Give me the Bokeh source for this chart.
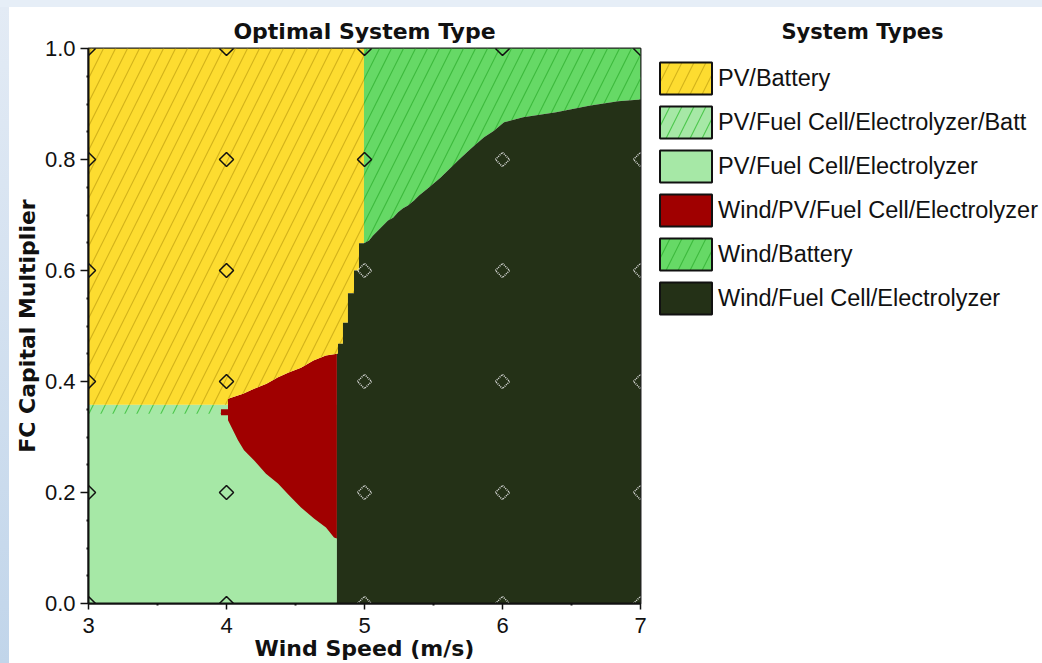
import numpy as np
from bokeh.plotting import figure
from bokeh.models import (Range1d, FixedTicker, Legend, LegendItem, Div, Title,
                          NumeralTickFormatter, ColumnDataSource)
from bokeh.layouts import column, row
from bokeh.embed import file_html
from bokeh.resources import INLINE

# ---------------- data ----------------
x_ticks = [3, 4, 5, 6, 7]
x_minor = [3.5, 4.5, 5.5, 6.5]
y_ticks = [0.0, 0.2, 0.4, 0.6, 0.8, 1.0]
y_minor = [0.05, 0.1, 0.15, 0.25, 0.3, 0.35, 0.45, 0.5, 0.55, 0.65, 0.7, 0.75, 0.85, 0.9, 0.95]

system_types = ["PV/Battery",
                "PV/Fuel Cell/Electrolyzer/Batt",
                "PV/Fuel Cell/Electrolyzer",
                "Wind/PV/Fuel Cell/Electrolyzer",
                "Wind/Battery",
                "Wind/Fuel Cell/Electrolyzer"]
fill_colors = ["#FDDC30", "#A6E8A6", "#A6E8A6", "#A00000", "#66D966", "#243117"]
hatch_colors = ["#D5B41A", "#4FC84F", None, None, "#3EBB3E", None]

# boundary between PV/Battery (left) and Wind/FC/Electrolyzer (right), top to bottom
sep_x = [4.996, 4.996, 4.96, 4.96, 4.924, 4.924, 4.88, 4.88, 4.844, 4.844, 4.808, 4.808, 4.80]
sep_y = [1.0, 0.649, 0.649, 0.60, 0.60, 0.559, 0.559, 0.506, 0.506, 0.468, 0.468, 0.45, 0.45]

# top edge of Wind/PV/FC/Electrolyzer region, right to left
red_top_x = [4.80, 4.72, 4.63, 4.54, 4.45, 4.37, 4.29, 4.20, 4.12, 4.011]
red_top_y = [0.450, 0.447, 0.438, 0.425, 0.416, 0.407, 0.396, 0.387, 0.378, 0.369]
# lower-left edge of Wind/PV/FC/Electrolyzer region, left to right
red_bot_x = [4.011, 4.011, 4.047, 4.083, 4.127, 4.199, 4.286, 4.373, 4.453, 4.540, 4.634, 4.721, 4.779, 4.80]
red_bot_y = [0.369, 0.330, 0.312, 0.294, 0.276, 0.258, 0.234, 0.216, 0.195, 0.173, 0.153, 0.137, 0.119, 0.117]
red_notch_x = [3.96, 4.011, 4.011, 3.96]
red_notch_y = [0.339, 0.339, 0.350, 0.350]

pv_bottom_y = 0.358           # lower edge of PV/Battery for wind < 4
batt_strip_x = [3.0, 3.96]    # PV/FC/Electrolyzer/Batt strip
batt_strip_y = [0.342, 0.358]

# top edge of Wind/FC/Electrolyzer region (below Wind/Battery), left to right
dark_top_x = [4.996, 5.033, 5.062, 5.098, 5.134, 5.170, 5.207, 5.243, 5.279, 5.315, 5.359, 5.395,
              5.460, 5.554, 5.678, 5.772, 5.866, 5.938, 6.011, 6.149, 6.388, 6.627, 6.837, 7.0]
dark_top_y = [0.649, 0.654, 0.663, 0.672, 0.681, 0.690, 0.695, 0.705, 0.712, 0.717, 0.726, 0.735,
              0.748, 0.768, 0.798, 0.820, 0.840, 0.852, 0.867, 0.876, 0.885, 0.897, 0.905, 0.908]

# sensitivity grid points (diamonds), on light and on dark regions
light_pts_x = [3, 3, 3, 3, 3, 3, 4, 4, 4, 4, 4, 4, 5, 5, 6, 7]
light_pts_y = [0.0, 0.2, 0.4, 0.6, 0.8, 1.0, 0.0, 0.2, 0.4, 0.6, 0.8, 1.0, 0.8, 1.0, 1.0, 1.0]
dark_pts_x = [5, 5, 5, 5, 6, 6, 6, 6, 6, 7, 7, 7, 7, 7]
dark_pts_y = [0.0, 0.2, 0.4, 0.6, 0.0, 0.2, 0.4, 0.6, 0.8, 0.0, 0.2, 0.4, 0.6, 0.8]

# ---------------- polygons from the data ----------------
xmin, xmax, ymin, ymax = x_ticks[0], x_ticks[-1], y_ticks[0], y_ticks[-1]

pvfc_x = [xmin, red_bot_x[-1], red_bot_x[-1], xmin]
pvfc_y = [ymin, ymin, pv_bottom_y, pv_bottom_y]

strip_x = [batt_strip_x[0], batt_strip_x[1], batt_strip_x[1], batt_strip_x[0]]
strip_y = [batt_strip_y[0], batt_strip_y[0], batt_strip_y[1], batt_strip_y[1]]

red_x = red_top_x + red_bot_x[1:]
red_y = red_top_y + red_bot_y[1:]

pvb_x = [xmin] + sep_x + red_top_x[1:] + [red_top_x[-1], xmin]
pvb_y = [ymax] + sep_y + red_top_y[1:] + [pv_bottom_y, pv_bottom_y]

windb_x = [dark_top_x[0], xmax] + dark_top_x[::-1]
windb_y = [ymax, ymax] + dark_top_y[::-1]

dark_x = [sep_x[-1], xmax] + dark_top_x[::-1] + sep_x[2:] + [sep_x[-1]]
dark_y = [ymin, ymin] + dark_top_y[::-1] + sep_y[2:] + [ymin]

# region index in system_types -> polygons
region_xs = {0: [pvb_x], 1: [strip_x], 2: [pvfc_x], 3: [red_x, red_notch_x], 4: [windb_x], 5: [dark_x]}
region_ys = {0: [pvb_y], 1: [strip_y], 2: [pvfc_y], 3: [red_y, red_notch_y], 4: [windb_y], 5: [dark_y]}
draw_order = [2, 1, 3, 0, 4, 5]

BLACK = "#111111"


def style(i, with_line=False):
    kw = dict(fill_color=fill_colors[i])
    if hatch_colors[i] is not None:
        kw.update(hatch_pattern="/", hatch_color=hatch_colors[i], hatch_scale=24, hatch_weight=1.2)
    if with_line:
        kw.update(line_color=BLACK, line_width=2)
    else:
        kw.update(line_color=None)
    return kw


# ---------------- main figure ----------------
p = figure(width=640, height=656, x_range=Range1d(xmin, xmax), y_range=Range1d(ymin, ymax),
           output_backend="svg", toolbar_location=None,
           min_border_left=79, min_border_right=9, min_border_top=41, min_border_bottom=60,
           title="Optimal System Type", background_fill_color="white", border_fill_color="white")
p.xgrid.visible = False
p.ygrid.visible = False

sources = {}
for i in draw_order:
    sources[i] = ColumnDataSource(dict(xs=region_xs[i], ys=region_ys[i]))
    p.patches(xs="xs", ys="ys", source=sources[i], **style(i))

p.scatter(x=light_pts_x, y=light_pts_y, marker="square", size=10, angle=np.pi / 4,
          fill_alpha=0, line_color=BLACK, line_width=1.5)
p.scatter(x=dark_pts_x, y=dark_pts_y, marker="square", size=10, angle=np.pi / 4,
          fill_alpha=0, line_color="#e0e0e0", line_width=1.5, line_dash="1 1")

p.title.align = "center"
p.title.text_font = "DejaVu Sans"
p.title.text_font_style = "bold"
p.title.text_font_size = "22px"
p.title.text_color = BLACK

p.xaxis.ticker = FixedTicker(ticks=x_ticks, minor_ticks=x_minor)
p.yaxis.ticker = FixedTicker(ticks=y_ticks, minor_ticks=y_minor)
p.xaxis.formatter = NumeralTickFormatter(format="0")
p.yaxis.formatter = NumeralTickFormatter(format="0.0")
p.xaxis.axis_label = "Wind Speed (m/s)"
p.yaxis.axis_label = "FC Capital Multiplier"
for ax in (p.xaxis, p.yaxis):
    ax.axis_line_color = BLACK
    ax.axis_line_width = 2
    ax.major_tick_line_color = BLACK
    ax.major_tick_line_width = 1.5
    ax.minor_tick_line_color = BLACK
    ax.minor_tick_line_width = 2
    ax.major_tick_in = 0
    ax.minor_tick_in = 0
    ax.minor_tick_out = 2
    ax.major_label_text_font = "Liberation Sans"
    ax.major_label_text_font_size = "22px"
    ax.major_label_text_color = BLACK
    ax.axis_label_text_font = "DejaVu Sans"
    ax.axis_label_text_font_style = "bold"
    ax.axis_label_text_font_size = "22px"
    ax.axis_label_text_color = BLACK
p.xaxis.major_tick_out = 6
p.yaxis.major_tick_out = 8
p.xaxis.major_label_standoff = 8
p.yaxis.major_label_standoff = 5
p.xaxis.axis_label_standoff = 0
p.yaxis.axis_label_standoff = 2
p.outline_line_color = "#222222"
p.outline_line_width = 2

# ---------------- legend figure ----------------
# the swatch renderers share the region data, but this figure's view shows none of it
lg = figure(width=393, height=656, x_range=Range1d(xmin, xmax), y_range=Range1d(ymax + 1, ymax + 2),
            output_backend="svg", toolbar_location=None,
            x_axis_location=None, y_axis_location=None,
            min_border_left=10, min_border_right=0, min_border_top=41, min_border_bottom=60,
            background_fill_color="white", border_fill_color="white")
lg.xgrid.visible = False
lg.ygrid.visible = False
lg.outline_line_color = None

lg.title = Title(text="System Types", align="left", offset=122, text_font="DejaVu Sans",
                 text_font_style="bold", text_font_size="21px", text_color=BLACK)

items = []
for i, name in enumerate(system_types):
    r = lg.patches(xs="xs", ys="ys", source=sources[i], **style(i, with_line=True))
    items.append(LegendItem(label=name, renderers=[r]))

legend = Legend(items=items, location=(-6, 285), glyph_width=65, glyph_height=40, spacing=4,
                padding=0, margin=0, label_standoff=0,
                label_text_font="Liberation Sans", label_text_font_size="23.5px",
                label_text_color=BLACK, border_line_alpha=0, background_fill_alpha=0)
lg.add_layout(legend, "center")

top_strip = Div(text="", width=1042, height=7, margin=0,
                styles={"background": "#e6eef7"})
left_strip = Div(text="", width=9, height=656, margin=0,
                 styles={"background": "linear-gradient(#e3ebf5, #c1d5ea)"})
layout = column(top_strip, row(left_strip, p, lg, spacing=0), spacing=0)

open("out.html", "w").write(file_html(layout, INLINE))
